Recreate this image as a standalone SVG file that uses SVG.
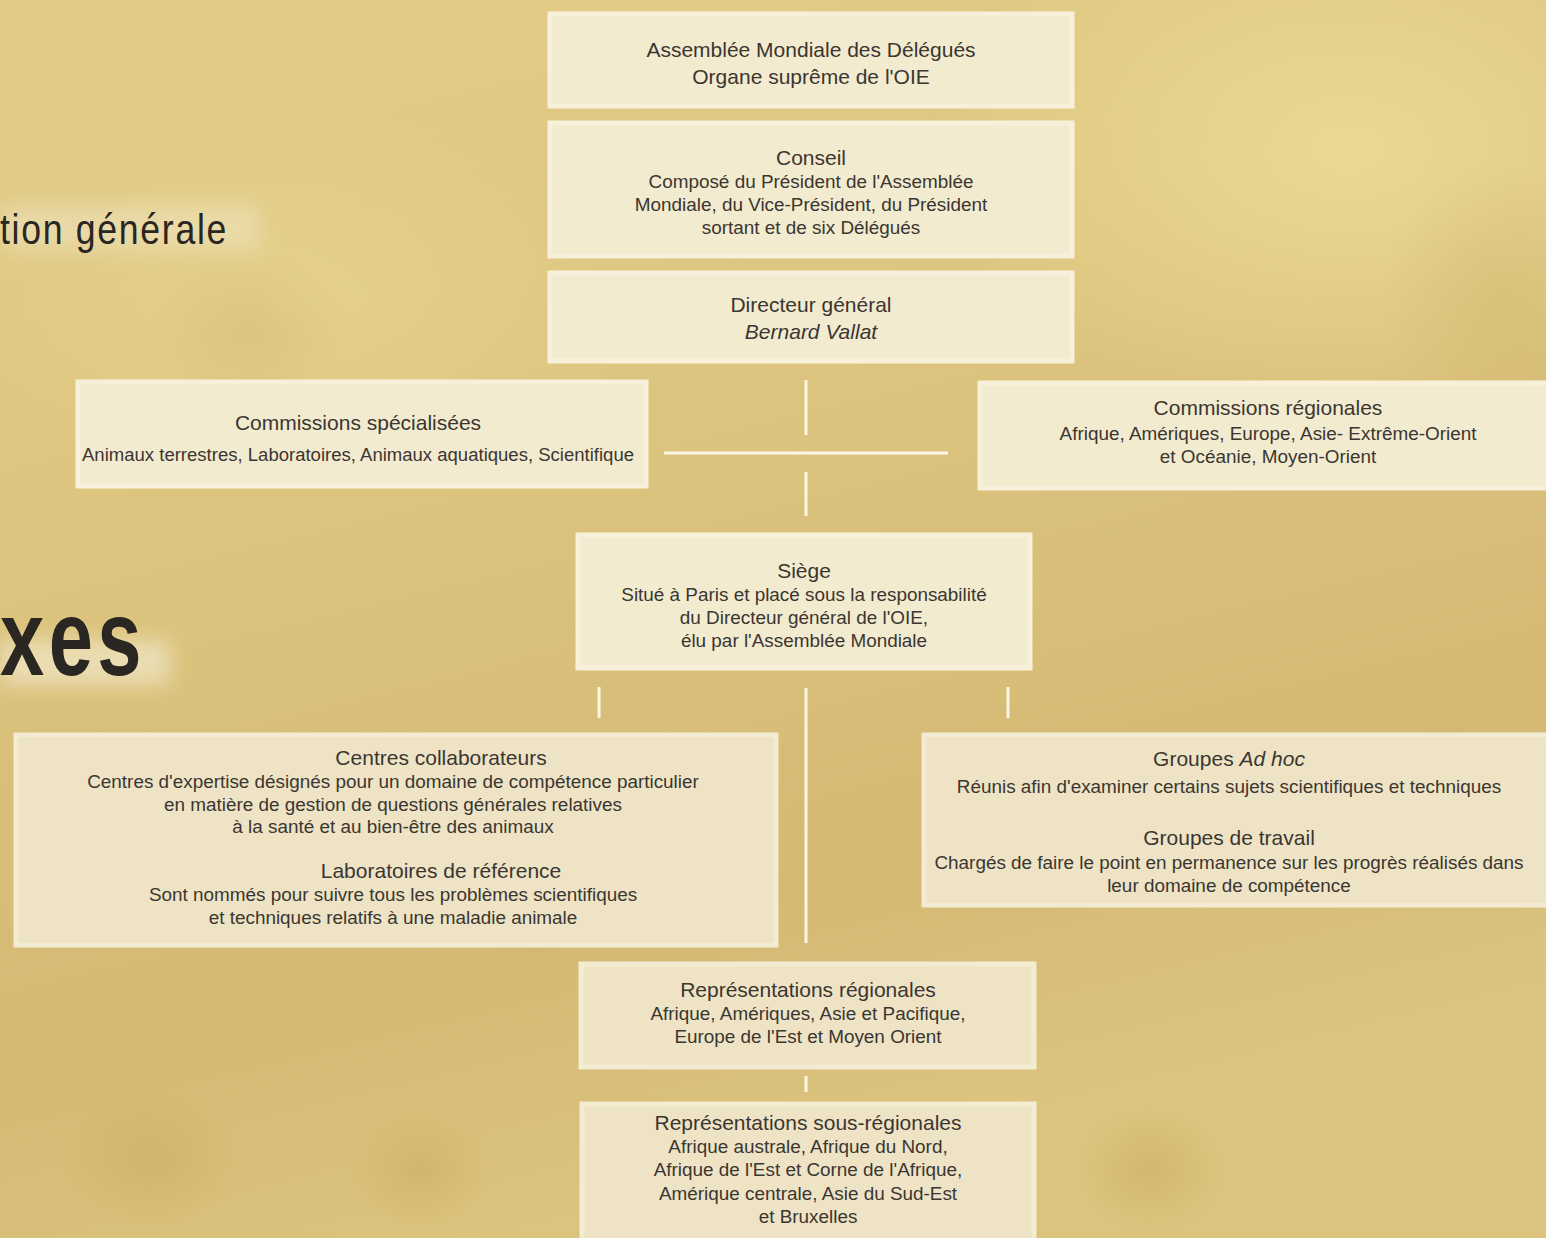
<svg xmlns="http://www.w3.org/2000/svg" width="1546" height="1238" viewBox="0 0 1546 1238">
<defs>
<linearGradient id="bg" x1="0" y1="0" x2="0.3" y2="1">
<stop offset="0" stop-color="#e2cd87"/>
<stop offset="0.45" stop-color="#dcc47e"/>
<stop offset="0.8" stop-color="#d4b973"/>
<stop offset="1" stop-color="#dcc47e"/>
</linearGradient>
<radialGradient id="hl" cx="0.5" cy="0.5" r="0.5">
<stop offset="0" stop-color="#ecdc96" stop-opacity="0.9"/>
<stop offset="1" stop-color="#ecdc96" stop-opacity="0"/>
</radialGradient>
<radialGradient id="dk" cx="0.5" cy="0.5" r="0.5">
<stop offset="0" stop-color="#c9ad62" stop-opacity="0.55"/>
<stop offset="1" stop-color="#c9ad62" stop-opacity="0"/>
</radialGradient>
<filter id="blur" x="-50%" y="-50%" width="200%" height="200%"><feGaussianBlur stdDeviation="10"/></filter>
</defs>
<style>
.box{fill:#f3ebcf;stroke:#f7f1dc;stroke-width:5}
.box2{fill:#eee4c5;stroke:#f3ebd2;stroke-width:5}
.t{font-family:"Liberation Sans",Arial,sans-serif;font-size:21px;fill:#3b3631;text-anchor:middle}
.b{font-family:"Liberation Sans",Arial,sans-serif;font-size:18.9px;fill:#3b3631;text-anchor:middle}
.it{font-style:italic}
.conn line{stroke:#fbf6e6;stroke-width:3}
.head{font-family:"Liberation Sans",Arial,sans-serif;fill:#2a2622}
</style>
<rect width="1546" height="1238" fill="url(#bg)"/>
<ellipse cx="1350" cy="150" rx="420" ry="260" fill="url(#hl)"/>
<ellipse cx="300" cy="300" rx="350" ry="200" fill="url(#hl)" opacity="0.5"/>
<ellipse cx="150" cy="1160" rx="90" ry="70" fill="url(#dk)"/>
<ellipse cx="420" cy="1170" rx="70" ry="60" fill="url(#dk)"/>
<ellipse cx="1150" cy="1170" rx="70" ry="60" fill="url(#dk)"/>
<ellipse cx="1500" cy="300" rx="120" ry="140" fill="url(#dk)" opacity="0.6"/>
<ellipse cx="250" cy="330" rx="100" ry="80" fill="url(#dk)" opacity="0.5"/>

<g id="title-general">
<rect x="0" y="205" width="260" height="45" fill="#f3ead0" opacity="0.45" filter="url(#blur)"/>
<text class="head" x="0" y="244" font-size="42" letter-spacing="2" textLength="228" lengthAdjust="spacingAndGlyphs">tion générale</text>
</g>
<g id="title-annexes">
<rect x="0" y="640" width="170" height="45" fill="#f6efd8" opacity="0.6" filter="url(#blur)"/>
<text class="head" x="0" y="675" font-size="108" font-weight="bold" letter-spacing="6" textLength="146" lengthAdjust="spacingAndGlyphs">xes</text>
</g>

<g class="conn" id="connectors">
<line x1="806" y1="380" x2="806" y2="435"/>
<line x1="664" y1="453" x2="948" y2="453"/>
<line x1="806" y1="472" x2="806" y2="516"/>
<line x1="599" y1="687" x2="599" y2="718"/>
<line x1="806" y1="688" x2="806" y2="943"/>
<line x1="1008" y1="687" x2="1008" y2="718"/>
<line x1="806" y1="1076" x2="806" y2="1092"/>
</g>

<g id="assemblee">
<rect class="box" x="550" y="14" width="522" height="92"/>
<text class="t" x="811" y="57">Assemblée Mondiale des Délégués</text>
<text class="t" x="811" y="84">Organe suprême de l'OIE</text>
</g>
<g id="conseil">
<rect class="box" x="550" y="123" width="522" height="133"/>
<text class="t" x="811" y="165">Conseil</text>
<text class="b" x="811" y="188">Composé du Président de l'Assemblée</text>
<text class="b" x="811" y="211">Mondiale, du Vice-Président, du Président</text>
<text class="b" x="811" y="234">sortant et de six Délégués</text>
</g>
<g id="directeur">
<rect class="box" x="550" y="273" width="522" height="88"/>
<text class="t" x="811" y="312">Directeur général</text>
<text class="t it" x="811" y="339">Bernard Vallat</text>
</g>
<g id="commissions-specialisees">
<rect class="box" x="78" y="382" width="568" height="104"/>
<text class="t" x="358" y="430">Commissions spécialisées</text>
<text class="b" x="358" y="461" textLength="552" lengthAdjust="spacingAndGlyphs">Animaux terrestres, Laboratoires, Animaux aquatiques, Scientifique</text>
</g>
<g id="commissions-regionales">
<rect class="box" x="980" y="383" width="570" height="105"/>
<text class="t" x="1268" y="415">Commissions régionales</text>
<text class="b" x="1268" y="440">Afrique, Amériques, Europe, Asie- Extrême-Orient</text>
<text class="b" x="1268" y="463">et Océanie, Moyen-Orient</text>
</g>
<g id="siege">
<rect class="box" x="578" y="535" width="452" height="133"/>
<text class="t" x="804" y="578">Siège</text>
<text class="b" x="804" y="601">Situé à Paris et placé sous la responsabilité</text>
<text class="b" x="804" y="624">du Directeur général de l'OIE,</text>
<text class="b" x="804" y="647">élu par l'Assemblée Mondiale</text>
</g>
<g id="centres">
<rect class="box2" x="16" y="735" width="760" height="210"/>
<text class="t" x="441" y="765">Centres collaborateurs</text>
<text class="b" x="393" y="788">Centres d'expertise désignés pour un domaine de compétence particulier</text>
<text class="b" x="393" y="811">en matière de gestion de questions générales relatives</text>
<text class="b" x="393" y="833">à la santé et au bien-être des animaux</text>
<text class="t" x="441" y="878">Laboratoires de référence</text>
<text class="b" x="393" y="901">Sont nommés pour suivre tous les problèmes scientifiques</text>
<text class="b" x="393" y="924">et techniques relatifs à une maladie animale</text>
</g>
<g id="groupes">
<rect class="box2" x="924" y="735" width="626" height="170"/>
<text class="t" x="1229" y="766">Groupes <tspan class="it">Ad hoc</tspan></text>
<text class="b" x="1229" y="793">Réunis afin d'examiner certains sujets scientifiques et techniques</text>
<text class="t" x="1229" y="845">Groupes de travail</text>
<text class="b" x="1229" y="869">Chargés de faire le point en permanence sur les progrès réalisés dans</text>
<text class="b" x="1229" y="892">leur domaine de compétence</text>
</g>
<g id="representations-regionales">
<rect class="box2" x="581" y="964" width="453" height="103"/>
<text class="t" x="808" y="997">Représentations régionales</text>
<text class="b" x="808" y="1020">Afrique, Amériques, Asie et Pacifique,</text>
<text class="b" x="808" y="1043">Europe de l'Est et Moyen Orient</text>
</g>
<g id="representations-sous-regionales">
<rect class="box2" x="582" y="1104" width="452" height="140"/>
<text class="t" x="808" y="1130">Représentations sous-régionales</text>
<text class="b" x="808" y="1153">Afrique australe, Afrique du Nord,</text>
<text class="b" x="808" y="1176">Afrique de l'Est et Corne de l'Afrique,</text>
<text class="b" x="808" y="1200">Amérique centrale, Asie du Sud-Est</text>
<text class="b" x="808" y="1223">et Bruxelles</text>
</g>
</svg>
